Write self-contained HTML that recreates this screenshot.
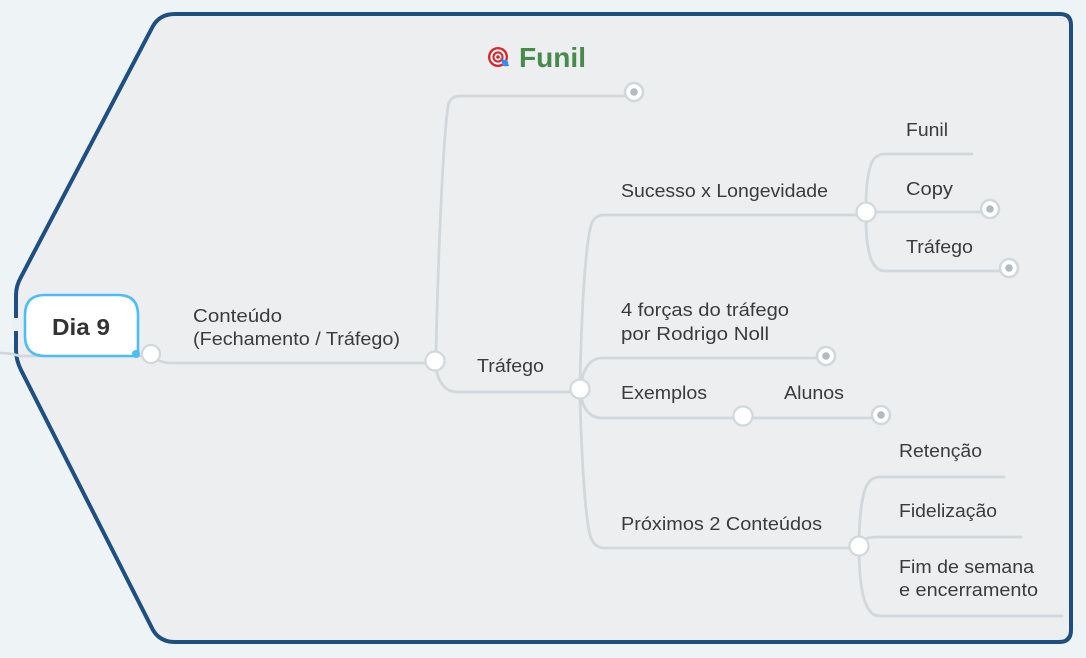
<!DOCTYPE html>
<html>
<head>
<meta charset="utf-8">
<style>
  html,body{margin:0;padding:0;background:#eef3f6;}
  svg{display:block;}
  text{font-family:"Liberation Sans", Arial, sans-serif;}
</style>
</head>
<body>
<svg width="1086" height="658" viewBox="0 0 1086 658" xmlns="http://www.w3.org/2000/svg">
  <rect x="0" y="0" width="1086" height="658" fill="#eef3f6"/>
  <!-- boundary -->
  <path d="M175,14 L1060,14 Q1071,14 1071,25 L1071,630 Q1071,642 1059,642 L175,642 Q160,642 153,630 L21,370 Q16,360 16,350 L16,295 Q16,286 21,277 L153,26 Q160,14 175,14 Z" fill="#edeef0" stroke="#1f4f80" stroke-width="4"/>
  <rect x="12" y="318" width="8" height="13" fill="#eef1f4"/>

  <!-- connectors -->
  <g fill="none" stroke="#d1d8dc" stroke-width="2.8" stroke-linecap="round">
    <path d="M0,353 Q10,353 20,356 L140,356"/>
    <path d="M151,354 Q157,363 172,363 L428,363"/>
    <!-- Conteudo trunk up -->
    <path d="M436,352 C438,260 443,140 448,106 Q450,96 460,96 L624,96"/>
    <!-- Conteudo down to Trafego -->
    <path d="M436,368 Q440,392 458,392 L572,392"/>
    <!-- Trafego trunk up to Sucesso -->
    <path d="M580,380 C582,300 586,245 591,225 Q594,215 604,215 L858,215"/>
    <!-- 4 forcas -->
    <path d="M580,389 Q584,358 602,358 L816,358"/>
    <!-- Exemplos -->
    <path d="M580,392 Q584,418 602,418 L733,418"/>
    <path d="M743,418 L871,418"/>
    <!-- Proximos -->
    <path d="M580,398 C582,470 586,525 591,538 Q595,548 605,548 L850,548"/>
    <!-- Sucesso children -->
    <path d="M866,205 C866,180 870,160 876,157 Q879,154 886,154 L972,154"/>
    <path d="M866,212 L982,212"/>
    <path d="M866,220 C866,245 870,262 876,267 Q879,271 886,271 L1001,271"/>
    <!-- Proximos children -->
    <path d="M859,538 C860,505 864,486 870,481 Q873,477 881,477 L1004,477"/>
    <path d="M862,541 Q866,537 878,537 L1021,537"/>
    <path d="M859,554 C860,590 864,604 870,611 Q873,616 881,616 L1062,616"/>
  </g>

  <!-- central node -->
  <path d="M45,295 L118,295 Q138,295 138,315 L138,356 L45,356 Q25,356 25,336 L25,315 Q25,295 45,295 Z" fill="#ffffff" stroke="#4cbdf6" stroke-width="2.6"/>
  <circle cx="136" cy="354" r="4" fill="#4cbdf6"/>
  <text x="52" y="335" font-size="23" font-weight="bold" fill="#333333" textLength="58" lengthAdjust="spacingAndGlyphs">Dia 9</text>

  <!-- branch circles -->
  <g fill="#ffffff" stroke="#d1d8dc" stroke-width="2.2">
    <circle cx="151" cy="354" r="9"/>
    <circle cx="435" cy="361" r="9.5"/>
    <circle cx="580" cy="389" r="9.5"/>
    <circle cx="866" cy="212" r="9.5"/>
    <circle cx="743" cy="416" r="9.5"/>
    <circle cx="859" cy="546" r="9.5"/>
  </g>
  <!-- leaf circles -->
  <g>
    <g fill="#ffffff" stroke="#d1d8dc" stroke-width="2.6">
      <circle cx="634" cy="92" r="9"/>
      <circle cx="990" cy="209" r="9"/>
      <circle cx="1009" cy="268" r="9"/>
      <circle cx="826" cy="356" r="9"/>
      <circle cx="881" cy="415" r="9"/>
    </g>
    <g fill="#b2bbc1">
      <circle cx="634" cy="92" r="3.8"/>
      <circle cx="990" cy="209" r="3.8"/>
      <circle cx="1009" cy="268" r="3.8"/>
      <circle cx="826" cy="356" r="3.8"/>
      <circle cx="881" cy="415" r="3.8"/>
    </g>
  </g>

  <!-- title -->
  <g>
    <circle cx="498" cy="57" r="10" fill="#d8262c"/>
    <circle cx="498" cy="57" r="7.6" fill="#ffffff"/>
    <circle cx="498" cy="57" r="5.6" fill="#d8262c"/>
    <circle cx="498" cy="57" r="3.5" fill="#ffffff"/>
    <circle cx="498" cy="57" r="1.8" fill="#d8262c"/>
    <path d="M500,58 L507,61 L509,66 L504,66 Z" fill="#2d7fe0"/>
    <circle cx="505" cy="63" r="3.2" fill="#3b8cf0"/>
  </g>
  <text x="519" y="67" font-size="28" font-weight="bold" fill="#478a4c" textLength="67" lengthAdjust="spacingAndGlyphs">Funil</text>

  <!-- labels -->
  <g font-size="18" fill="#3b3b3b">
    <text x="193" y="322" textLength="89" lengthAdjust="spacingAndGlyphs">Conteúdo</text>
    <text x="193" y="345" textLength="207" lengthAdjust="spacingAndGlyphs">(Fechamento / Tráfego)</text>
    <text x="477" y="372" textLength="67" lengthAdjust="spacingAndGlyphs">Tráfego</text>
    <text x="621" y="197" textLength="207" lengthAdjust="spacingAndGlyphs">Sucesso x Longevidade</text>
    <text x="906" y="136" textLength="42" lengthAdjust="spacingAndGlyphs">Funil</text>
    <text x="906" y="195" textLength="47" lengthAdjust="spacingAndGlyphs">Copy</text>
    <text x="906" y="253" textLength="67" lengthAdjust="spacingAndGlyphs">Tráfego</text>
    <text x="621" y="316" textLength="168" lengthAdjust="spacingAndGlyphs">4 forças do tráfego</text>
    <text x="621" y="340" textLength="148" lengthAdjust="spacingAndGlyphs">por Rodrigo Noll</text>
    <text x="621" y="399" textLength="86" lengthAdjust="spacingAndGlyphs">Exemplos</text>
    <text x="784" y="399" textLength="60" lengthAdjust="spacingAndGlyphs">Alunos</text>
    <text x="621" y="530" textLength="201" lengthAdjust="spacingAndGlyphs">Próximos 2 Conteúdos</text>
    <text x="899" y="457" textLength="83" lengthAdjust="spacingAndGlyphs">Retenção</text>
    <text x="899" y="517" textLength="98" lengthAdjust="spacingAndGlyphs">Fidelização</text>
    <text x="899" y="573" textLength="135" lengthAdjust="spacingAndGlyphs">Fim de semana</text>
    <text x="899" y="596" textLength="139" lengthAdjust="spacingAndGlyphs">e encerramento</text>
  </g>
</svg>
</body>
</html>
